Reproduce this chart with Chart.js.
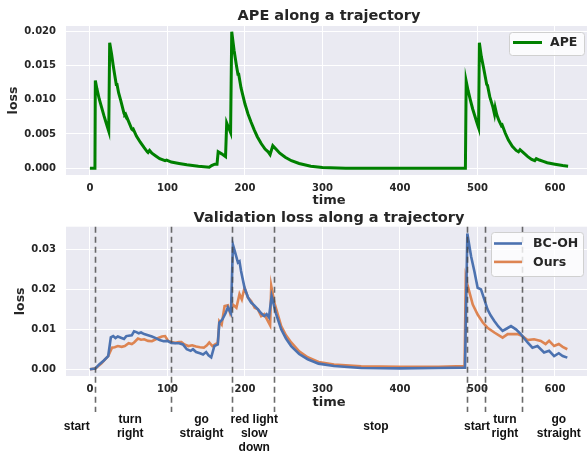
<!DOCTYPE html>
<html><head><meta charset="utf-8">
<script src="https://cdn.jsdelivr.net/npm/chart.js@4.4.1/dist/chart.umd.min.js"></script>
<style>
html,body{margin:0;padding:0;background:#fff;overflow:hidden;width:587px;height:453px;}
canvas{position:absolute;left:0;}
#c1{top:0;}
#c2{top:204px;}
</style></head><body>
<canvas id="c1" width="600" height="210" style="width:600px;height:210px"></canvas>
<canvas id="c2" width="600" height="249" style="width:600px;height:249px"></canvas>
<script>
// ---------- DATA ----------
const timeTicks = [0, 100, 200, 300, 400, 500, 600];
const apeTicks = [0, 0.005, 0.010, 0.015, 0.020];
const valTicks = [0, 0.01, 0.02, 0.03];

const apeTime = [
  0, 6.5, 7, 9, 12, 15, 18, 21, 24.3, 25.5,
  28, 30, 32, 34, 35, 37, 40, 44, 45, 46,
  50, 54, 55, 56, 60, 65, 70, 74, 75, 77,
  80, 85, 90, 97, 99, 105, 115, 125, 140, 154,
  157, 161, 164, 165.5, 170, 175, 176.5, 179, 181.5, 183,
  186, 189, 191, 192, 195, 200, 204, 208, 212, 216,
  221, 226, 230, 232.5, 236, 240, 245, 252, 260, 270,
  285, 300, 330, 484.5, 485.5, 488, 491, 494, 497, 500,
  501.5, 502.5, 505, 508, 512, 513, 516, 520, 522, 523,
  525, 528, 531, 532, 536, 540, 545, 550, 553, 555,
  560, 565, 570, 574, 576, 580, 585, 590, 600, 610,
  617];
const apeLoss = [
  0, 0, 0.0128, 0.0116, 0.0101, 0.0089, 0.0077, 0.0066, 0.0054, 0.0183,
  0.0166, 0.0150, 0.0136, 0.0122, 0.0122, 0.0110, 0.0098, 0.0080, 0.0078, 0.0079,
  0.0068, 0.0057, 0.0056, 0.0057, 0.0047, 0.0038, 0.0030, 0.0024, 0.0023, 0.0026,
  0.0022, 0.0018, 0.0014, 0.0011, 0.0012, 0.0009, 0.0007, 0.0005, 0.0003, 0.00015,
  0.0004, 0.0006, 0.0006, 0.0024, 0.0021, 0.0017, 0.0066, 0.0059, 0.0052, 0.0199,
  0.0172, 0.0150, 0.0137, 0.0137, 0.0117, 0.0094, 0.0079, 0.0067, 0.0056, 0.0046,
  0.0036, 0.0028, 0.0024, 0.0020, 0.0033, 0.0028, 0.0022, 0.0016, 0.0011, 0.0007,
  0.0003, 0.0001, 0, 0, 0.0127, 0.0113, 0.0099, 0.0086, 0.0075, 0.0064,
  0.0059, 0.0183, 0.0163, 0.0146, 0.0122, 0.0121, 0.0104, 0.0089, 0.0079, 0.0088,
  0.0078, 0.0069, 0.0062, 0.0063, 0.0051, 0.0041, 0.0032, 0.0026, 0.0024, 0.0027,
  0.0022, 0.0017, 0.0013, 0.0011, 0.0014, 0.0012, 0.0010, 0.0008, 0.0006, 0.0004,
  0.0003];

const bcTime = [
  0, 7, 12, 18, 23.6, 27, 30, 33, 36, 40,
  44, 47, 50, 54, 57, 60, 63, 66, 70, 75,
  80, 85, 90, 95, 100, 105, 110, 115, 120, 125,
  130, 133, 137, 142, 146, 150, 153, 156.5, 160.5, 165,
  167, 171, 175, 178, 182, 184.5, 187, 191, 193, 195,
  199.5, 204, 208, 212, 216.8, 221, 225, 228, 231, 234.5,
  240, 246.8, 253, 259.7, 270, 281, 295, 315, 350, 400,
  450, 484, 487, 491.8, 496, 500.3, 504.6, 508.9, 513, 517,
  521.8, 527, 532.5, 538, 543.3, 549.7, 556, 564.7, 571, 577.5,
  586, 592.5, 599, 605, 610, 616];
const bcLoss = [
  0, 0.0002, 0.0012, 0.0022, 0.0033, 0.0080, 0.0083, 0.0078, 0.0082, 0.0079,
  0.0076, 0.0083, 0.0084, 0.0085, 0.0095, 0.0093, 0.0090, 0.0092, 0.0088, 0.0085,
  0.0082, 0.0078, 0.0073, 0.0070, 0.0071, 0.0066, 0.0065, 0.0065, 0.0062, 0.0050,
  0.0046, 0.0050, 0.0043, 0.0040, 0.0037, 0.0043, 0.0035, 0.0030, 0.0058, 0.0062,
  0.0117, 0.0125, 0.0140, 0.0155, 0.0140, 0.0312, 0.0295, 0.0267, 0.0270, 0.0246,
  0.0204, 0.0180, 0.0167, 0.0160, 0.0150, 0.0140, 0.0133, 0.0138, 0.0130, 0.0183,
  0.0140, 0.0100, 0.0077, 0.0058, 0.0038, 0.0025, 0.0014, 0.0008, 0.0003, 0.0002,
  0.0003, 0.0004, 0.0340, 0.0283, 0.0246, 0.0204, 0.0200, 0.0175, 0.0150, 0.0135,
  0.0121, 0.0107, 0.0096, 0.0102, 0.0108, 0.0100, 0.0088, 0.0067, 0.0054, 0.0058,
  0.0042, 0.0046, 0.0033, 0.0040, 0.0033, 0.0029];

const oursTime = [
  0, 7, 15, 23.6, 28.5, 32, 36, 41, 45, 50,
  54, 57, 62, 66, 70, 75, 80, 85, 89, 93,
  97, 101, 105, 110, 115, 118, 122, 127, 132, 137,
  142, 147, 151, 154, 158, 162, 165, 167, 170, 173.8,
  178, 181, 184.5, 189, 193, 196, 199.5, 204, 208, 212.6,
  216.8, 221, 225, 229.5, 232.5, 234, 238, 246.8, 253, 259.7,
  270, 281, 295, 315, 350, 400, 450, 483.5, 485, 487.6,
  494, 500.3, 507, 513, 521.8, 532.5, 539, 552, 558, 564.7,
  573, 581.8, 588, 592.5, 599, 605, 610, 616];
const oursLoss = [
  0, 0.0002, 0.0015, 0.0033, 0.0054, 0.0055, 0.0058, 0.0056, 0.0058, 0.0065,
  0.0063, 0.0067, 0.0077, 0.0074, 0.0075, 0.0071, 0.0070, 0.0075, 0.0079, 0.0082,
  0.0083, 0.0071, 0.0068, 0.0066, 0.0068, 0.0068, 0.0062, 0.0058, 0.0060, 0.0057,
  0.0055, 0.0054, 0.0060, 0.0067, 0.0058, 0.0063, 0.0066, 0.0120, 0.0112, 0.0158,
  0.0160, 0.0140, 0.0162, 0.0154, 0.0188, 0.0175, 0.0204, 0.0179, 0.0171, 0.0154,
  0.0150, 0.0133, 0.0138, 0.0121, 0.0110, 0.0208, 0.0167, 0.0108, 0.0085, 0.0067,
  0.0045, 0.0030, 0.0018, 0.0012, 0.0007, 0.0006, 0.0006, 0.0008, 0.0229, 0.0208,
  0.0162, 0.0137, 0.0117, 0.0104, 0.0092, 0.0079, 0.0088, 0.0088, 0.0083, 0.0073,
  0.0075, 0.0071, 0.0063, 0.0071, 0.0058, 0.0063, 0.0056, 0.0050];

const phaseBounds = [7, 105, 183, 238, 487, 510, 557];
const phaseNames = ['start', 'turn\nright', 'go\nstraight', 'red light\nslow\ndown', 'stop', 'start', 'turn\nright', 'go\nstraight'];
const phaseCenters = [-17, 52, 144, 212, 369, 499.5, 535.5, 605];

// ---------- HELPERS ----------
const pts = (xs, ys) => xs.map((x, i) => ({x: x, y: ys[i]}));
const FONT = 'DejaVu Sans';
const TXT = '#262626';
Chart.defaults.font.family = FONT;
Chart.defaults.color = TXT;

const bgPlugin = {
  id: 'bgArea',
  beforeDraw(chart) {
    const a = chart.chartArea, ctx = chart.ctx;
    ctx.save();
    ctx.fillStyle = '#EAEAF2';
    ctx.fillRect(a.left, a.top, a.right - a.left, a.bottom - a.top);
    ctx.restore();
  }
};

function rrect(ctx, x, y, w, h, r) {
  ctx.beginPath();
  ctx.moveTo(x + r, y);
  ctx.lineTo(x + w - r, y); ctx.arcTo(x + w, y, x + w, y + r, r);
  ctx.lineTo(x + w, y + h - r); ctx.arcTo(x + w, y + h, x + w - r, y + h, r);
  ctx.lineTo(x + r, y + h); ctx.arcTo(x, y + h, x, y + h - r, r);
  ctx.lineTo(x, y + r); ctx.arcTo(x, y, x + r, y, r);
  ctx.closePath();
}

const boxLegend = {
  id: 'boxLegend',
  afterDatasetsDraw(chart, args, o) {
    const ctx = chart.ctx;
    ctx.save();
    rrect(ctx, o.x + 0.5, o.y + 0.5, o.w, o.h, 3);
    ctx.fillStyle = 'rgba(255,255,255,0.8)';
    ctx.fill();
    ctx.strokeStyle = '#d0d0d0';
    ctx.lineWidth = 1;
    ctx.stroke();
    chart.data.datasets.forEach((ds, i) => {
      const yy = o.firstY + i * o.rowH;
      ctx.beginPath();
      ctx.moveTo(o.lineX0, yy); ctx.lineTo(o.lineX1, yy);
      ctx.strokeStyle = ds.borderColor;
      ctx.lineWidth = ds.borderWidth;
      ctx.stroke();
      ctx.fillStyle = TXT;
      ctx.font = 'bold 12.5px "' + FONT + '"';
      ctx.textBaseline = 'middle';
      ctx.textAlign = 'left';
      ctx.fillText(ds.label, o.textX, yy + 0.5);
    });
    ctx.restore();
  }
};

const phasePlugin = {
  id: 'phases',
  afterDatasetsDraw(chart, args, o) {
    const ctx = chart.ctx, xs = chart.scales.x, a = chart.chartArea;
    ctx.save();
    ctx.strokeStyle = 'rgba(70,70,70,0.8)';
    ctx.lineWidth = 1.6;
    ctx.setLineDash([6, 4]);
    phaseBounds.forEach(t => {
      const px = Math.round(xs.getPixelForValue(t)) + 0.5;
      ctx.beginPath();
      ctx.moveTo(px, a.top);
      ctx.lineTo(px, o.lineBottom);
      ctx.stroke();
    });
    ctx.setLineDash([]);
    ctx.fillStyle = '#111';
    ctx.font = 'bold 12px "Liberation Sans"';
    ctx.textAlign = 'center';
    ctx.textBaseline = 'middle';
    phaseNames.forEach((name, i) => {
      const lines = name.split('\n');
      const px = xs.getPixelForValue(phaseCenters[i]);
      const y0 = lines.length > 1 ? o.firstLineY : o.singleY;
      lines.forEach((ln, j) => ctx.fillText(ln, px, y0 + j * o.lineH));
    });
    ctx.restore();
  }
};

function axes(yTicks, yMin, yMax, yDec, yTitlePad, xHeight, xTitlePadB) {
  return {
    x: {
      type: 'linear', min: -30.85, max: 647.85,
      afterBuildTicks: s => { s.ticks = timeTicks.map(v => ({value: v})); },
      afterFit: s => { s.height = xHeight; },
      grid: {color: '#ffffff', lineWidth: 1, drawTicks: false},
      border: {display: false},
      ticks: {padding: 7, font: {size: 10, weight: 'bold'}, color: TXT, maxRotation: 0,
              callback: v => String(v)},
      title: {display: true, text: 'time', font: {size: 13, weight: 'bold'}, color: TXT,
              padding: {top: 0, bottom: xTitlePadB}}
    },
    y: {
      type: 'linear', min: yMin, max: yMax,
      afterBuildTicks: s => { s.ticks = yTicks.map(v => ({value: v})); },
      afterFit: s => { s.width = 66; },
      grid: {color: '#ffffff', lineWidth: 1, drawTicks: false},
      border: {display: false},
      ticks: {padding: 10, font: {size: 10, weight: 'bold'}, color: TXT,
              callback: v => Number(v).toFixed(yDec)},
      title: {display: true, text: 'loss', font: {size: 12.5, weight: 'bold'}, color: TXT,
              padding: {top: yTitlePad, bottom: 0}}
    }
  };
}

// ---------- TOP CHART ----------
new Chart(document.getElementById('c1'), {
  type: 'line',
  data: {datasets: [{
    label: 'APE', data: pts(apeTime, apeLoss),
    borderColor: '#008000', borderWidth: 3, pointRadius: 0, tension: 0, fill: false
  }]},
  options: {
    responsive: false, animation: false, devicePixelRatio: 1, events: [],
    layout: {padding: {left: 0, right: 8, top: 0, bottom: 0}},
    scales: axes(apeTicks, -0.00098, 0.02073, 3, 6, 35, 1.2),
    plugins: {
      legend: {display: false}, tooltip: {enabled: false},
      title: {display: true, fullSize: false, text: 'APE along a trajectory', color: TXT,
              font: {size: 14.5, weight: 'bold'}, padding: {top: 7.3, bottom: 1.3}},
      boxLegend: {x: 509, y: 32, w: 75, h: 23, firstY: 42.5, rowH: 18,
                  lineX0: 513, lineX1: 542, textX: 550}
    }
  },
  plugins: [bgPlugin, boxLegend]
});

// ---------- BOTTOM CHART ----------
new Chart(document.getElementById('c2'), {
  type: 'line',
  data: {datasets: [
    {label: 'BC-OH', data: pts(bcTime, bcLoss), borderColor: '#4C72B0',
     borderWidth: 2.6, pointRadius: 0, tension: 0, fill: false},
    {label: 'Ours', data: pts(oursTime, oursLoss), borderColor: '#DD8452',
     borderWidth: 2.6, pointRadius: 0, tension: 0, fill: false}
  ]},
  options: {
    responsive: false, animation: false, devicePixelRatio: 1, events: [],
    layout: {padding: {left: 0, right: 8, top: 0, bottom: 42}},
    scales: axes(valTicks, -0.0017, 0.0357, 2, 13, 35, 0.2),
    plugins: {
      legend: {display: false}, tooltip: {enabled: false},
      title: {display: true, fullSize: false, text: 'Validation loss along a trajectory', color: TXT,
              font: {size: 14.5, weight: 'bold'}, padding: {top: 5.3, bottom: 0}},
      boxLegend: {x: 491, y: 28, w: 92, h: 44, firstY: 39.5, rowH: 18.4,
                  lineX0: 494, lineX1: 522, textX: 533},
      phases: {lineBottom: 208, firstLineY: 216, singleY: 223, lineH: 14}
    }
  },
  plugins: [bgPlugin, phasePlugin, boxLegend]
});
</script>
</body></html>
